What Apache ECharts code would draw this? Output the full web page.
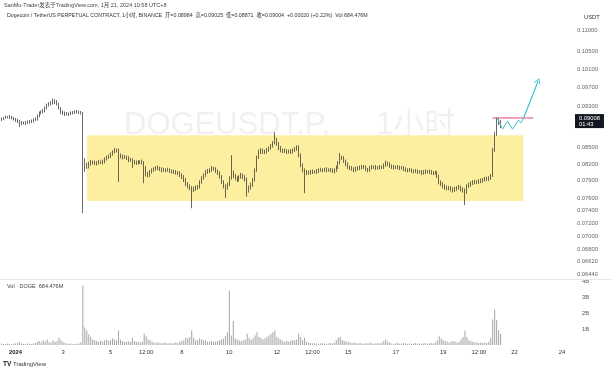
<!DOCTYPE html>
<html><head><meta charset="utf-8">
<script src="https://cdn.jsdelivr.net/npm/echarts@6/dist/echarts.min.js"></script>
<style>html,body{margin:0;padding:0;background:#fff}#c{width:612px;height:371px}</style>
</head><body><div id="c"></div>
<script>
// ---- data (2-hour candles, DOGEUSDT.P) ----
const firstCandle = '2023-12-31 10:00';
const candleHours = 2;
const opens = [
.0904,.0905,.0907,.0909,.0909,.0909,.0907,.0905,.0903,.0901,
.0899,.0897,.0897,.0897,.0899,.0899,.0901,.0903,.0905,.0911,
.0917,.0919,.0921,.0927,.0933,.0935,.0937,.0939,.0941,.0935,
.0927,.0919,.0917,.0915,.0915,.0915,.0917,.0917,.0919,.0919,
.0919,.0917,.0816,.0818,.0816,.0820,.0823,.0823,.0822,.0822,
.0823,.0823,.0823,.0829,.0832,.0834,.0838,.0842,.0845,.0845,
.0836,.0834,.0832,.0832,.0831,.0827,.0827,.0823,.0823,.0822,
.0823,.0823,.0823,.0813,.0802,.0800,.0806,.0809,.0811,.0813,
.0813,.0811,.0809,.0809,.0809,.0809,.0807,.0807,.0806,.0804,
.0804,.0800,.0797,.0792,.0785,.0781,.0778,.0774,.0776,.0779,
.0779,.0788,.0795,.0800,.0806,.0807,.0809,.0813,.0811,.0807,
.0804,.0797,.0788,.0781,.0778,.0783,.0795,.0804,.0799,.0795,
.0792,.0797,.0800,.0797,.0793,.0774,.0778,.0783,.0792,.0809,
.0832,.0842,.0845,.0842,.0842,.0845,.0849,.0853,.0859,.0864,
.0857,.0849,.0845,.0844,.0844,.0842,.0842,.0842,.0845,.0847,
.0851,.0836,.0818,.0809,.0806,.0804,.0804,.0806,.0806,.0806,
.0807,.0809,.0809,.0809,.0809,.0809,.0809,.0809,.0807,.0809,
.0814,.0822,.0832,.0831,.0825,.0820,.0814,.0813,.0811,.0809,
.0811,.0813,.0813,.0814,.0814,.0811,.0809,.0813,.0814,.0814,
.0813,.0813,.0814,.0814,.0818,.0822,.0820,.0816,.0814,.0814,
.0814,.0814,.0813,.0813,.0811,.0809,.0809,.0809,.0807,.0807,
.0807,.0806,.0806,.0804,.0806,.0806,.0806,.0806,.0804,.0804,
.0804,.0799,.0788,.0785,.0781,.0779,.0778,.0778,.0776,.0774,
.0776,.0778,.0779,.0776,.0774,.0771,.0781,.0783,.0786,.0788,
.0788,.0788,.0790,.0790,.0792,.0793,.0793,.0795,.0799,.0845,
.0876,.0901,.0899];
const closes = [
.0905,.0907,.0909,.0909,.0909,.0907,.0905,.0903,.0901,.0899,
.0897,.0897,.0897,.0899,.0899,.0901,.0903,.0905,.0911,.0917,
.0919,.0921,.0927,.0933,.0935,.0937,.0939,.0941,.0935,.0927,
.0919,.0917,.0915,.0915,.0915,.0917,.0917,.0919,.0919,.0919,
.0917,.0816,.0818,.0816,.0820,.0823,.0823,.0822,.0822,.0823,
.0823,.0823,.0829,.0832,.0834,.0838,.0842,.0845,.0845,.0836,
.0834,.0832,.0832,.0831,.0827,.0827,.0823,.0823,.0822,.0823,
.0823,.0823,.0813,.0802,.0800,.0806,.0809,.0811,.0813,.0813,
.0811,.0809,.0809,.0809,.0809,.0807,.0807,.0806,.0804,.0804,
.0800,.0797,.0792,.0785,.0781,.0778,.0774,.0776,.0779,.0779,
.0788,.0795,.0800,.0806,.0807,.0809,.0813,.0811,.0807,.0804,
.0797,.0788,.0781,.0778,.0783,.0795,.0804,.0799,.0795,.0792,
.0797,.0800,.0797,.0793,.0774,.0778,.0783,.0792,.0809,.0832,
.0842,.0845,.0842,.0842,.0845,.0849,.0853,.0859,.0864,.0857,
.0849,.0845,.0844,.0844,.0842,.0842,.0842,.0845,.0847,.0851,
.0836,.0818,.0809,.0806,.0804,.0804,.0806,.0806,.0806,.0807,
.0809,.0809,.0809,.0809,.0809,.0809,.0809,.0807,.0809,.0814,
.0822,.0832,.0831,.0825,.0820,.0814,.0813,.0811,.0809,.0811,
.0813,.0813,.0814,.0814,.0811,.0809,.0813,.0814,.0814,.0813,
.0813,.0814,.0814,.0818,.0822,.0820,.0816,.0814,.0814,.0814,
.0814,.0813,.0813,.0811,.0809,.0809,.0809,.0807,.0807,.0807,
.0806,.0806,.0804,.0806,.0806,.0806,.0806,.0804,.0804,.0804,
.0799,.0788,.0785,.0781,.0779,.0778,.0778,.0776,.0774,.0776,
.0778,.0779,.0776,.0774,.0771,.0781,.0783,.0786,.0788,.0788,
.0788,.0790,.0790,.0792,.0793,.0793,.0795,.0799,.0845,.0876,
.0901,.0899,.0901];
const lows = [
.0901,.0903,.0905,.0906,.0905,.0904,.0902,.0899,.0897,.0889,
.0893,.0894,.0893,.0895,.0896,.0897,.0898,.0901,.0902,.0908,
.0914,.0916,.0918,.0924,.0930,.0932,.0934,.0935,.0932,.0924,
.0915,.0913,.0911,.0912,.0911,.0913,.0914,.0915,.0916,.0915,
.0914,.0736,.0806,.0811,.0812,.0817,.0819,.0818,.0817,.0819,
.0820,.0819,.0821,.0826,.0829,.0831,.0835,.0839,.0841,.0788,
.0830,.0828,.0829,.0827,.0823,.0824,.0813,.0819,.0818,.0819,
.0820,.0819,.0786,.0798,.0796,.0797,.0803,.0806,.0808,.0809,
.0807,.0805,.0806,.0805,.0806,.0804,.0803,.0802,.0801,.0800,
.0797,.0793,.0788,.0781,.0777,.0774,.0744,.0771,.0773,.0775,
.0777,.0785,.0792,.0797,.0802,.0804,.0806,.0808,.0804,.0800,
.0794,.0785,.0777,.0761,.0775,.0781,.0792,.0795,.0791,.0788,
.0789,.0794,.0793,.0789,.0763,.0770,.0775,.0780,.0789,.0806,
.0829,.0838,.0838,.0838,.0839,.0842,.0846,.0850,.0856,.0853,
.0845,.0841,.0840,.0840,.0838,.0839,.0838,.0839,.0842,.0844,
.0832,.0814,.0805,.0769,.0800,.0801,.0801,.0802,.0803,.0802,
.0804,.0806,.0805,.0806,.0805,.0806,.0805,.0804,.0803,.0806,
.0811,.0819,.0827,.0822,.0816,.0811,.0809,.0808,.0805,.0806,
.0808,.0809,.0810,.0811,.0807,.0805,.0806,.0810,.0811,.0809,
.0810,.0810,.0811,.0811,.0815,.0816,.0813,.0811,.0810,.0811,
.0810,.0809,.0810,.0807,.0806,.0805,.0806,.0804,.0803,.0804,
.0802,.0803,.0800,.0801,.0802,.0803,.0802,.0801,.0800,.0801,
.0795,.0784,.0781,.0777,.0775,.0774,.0774,.0772,.0770,.0771,
.0773,.0775,.0772,.0770,.0749,.0768,.0778,.0780,.0783,.0784,
.0785,.0785,.0786,.0787,.0789,.0790,.0790,.0792,.0797,.0842,
.0872,.0893,.0887];
const highs = [
.0908,.0909,.0912,.0911,.0913,.0911,.0909,.0907,.0905,.0903,
.0901,.0900,.0901,.0902,.0903,.0904,.0906,.0908,.0914,.0920,
.0922,.0925,.0930,.0936,.0939,.0941,.0946,.0945,.0943,.0938,
.0929,.0922,.0920,.0919,.0918,.0920,.0921,.0922,.0923,.0922,
.0921,.0919,.0830,.0822,.0824,.0827,.0826,.0826,.0825,.0827,
.0826,.0828,.0832,.0835,.0837,.0841,.0845,.0849,.0848,.0848,
.0839,.0837,.0836,.0835,.0834,.0831,.0830,.0827,.0826,.0827,
.0826,.0828,.0825,.0816,.0806,.0809,.0812,.0814,.0816,.0817,
.0815,.0814,.0813,.0812,.0813,.0812,.0810,.0810,.0809,.0807,
.0807,.0803,.0800,.0795,.0788,.0784,.0781,.0780,.0782,.0783,
.0791,.0798,.0803,.0809,.0811,.0812,.0816,.0815,.0814,.0810,
.0807,.0800,.0791,.0784,.0787,.0798,.0836,.0808,.0802,.0798,
.0800,.0804,.0803,.0800,.0796,.0782,.0787,.0795,.0812,.0835,
.0846,.0849,.0848,.0846,.0849,.0852,.0857,.0862,.0879,.0868,
.0860,.0853,.0848,.0848,.0847,.0846,.0847,.0848,.0851,.0854,
.0854,.0839,.0821,.0812,.0809,.0808,.0809,.0810,.0809,.0811,
.0812,.0813,.0812,.0813,.0814,.0812,.0813,.0812,.0812,.0817,
.0825,.0840,.0835,.0834,.0828,.0823,.0817,.0816,.0814,.0815,
.0816,.0817,.0818,.0818,.0817,.0813,.0816,.0818,.0817,.0818,
.0816,.0818,.0817,.0821,.0826,.0824,.0823,.0819,.0818,.0817,
.0818,.0817,.0816,.0816,.0814,.0812,.0813,.0812,.0810,.0811,
.0810,.0809,.0809,.0809,.0810,.0809,.0810,.0809,.0807,.0808,
.0807,.0801,.0791,.0788,.0784,.0782,.0781,.0781,.0779,.0780,
.0781,.0783,.0782,.0779,.0777,.0784,.0787,.0789,.0791,.0792,
.0791,.0793,.0794,.0795,.0797,.0797,.0798,.0802,.0849,.0880,
.0908,.0906,.0903];
// volume in billions of DOGE
const volumes = [
.08,.06,.07,.10,.06,.05,.08,.09,.12,.18,
.10,.07,.06,.08,.10,.07,.09,.12,.20,.25,
.15,.30,.22,.35,.18,.15,.28,.20,.25,.45,
.30,.18,.12,.10,.08,.09,.07,.06,.08,.10,
.15,3.7,1.1,.9,.65,.5,.35,.3,.25,.2,
.28,.22,.3,.35,.25,.3,.4,.35,.3,.9,
.35,.25,.2,.18,.22,.2,.45,.25,.2,.18,
.15,.2,.7,.55,.35,.3,.2,.15,.12,.15,
.12,.1,.15,.12,.1,.12,.1,.12,.15,.12,
.2,.25,.3,.45,.4,.5,.9,.45,.3,.3,
.4,.35,.3,.3,.2,.2,.25,.2,.2,.25,
.3,.35,.4,.55,.8,3.4,.6,1.5,.4,.35,
.3,.25,.3,.35,.7,.45,.35,.4,.6,.8,
.5,.45,.35,.4,.5,.6,.7,.8,.9,.5,
.4,.35,.25,.2,.25,.2,.25,.3,.3,.35,
.7,.5,.3,.45,.2,.15,.12,.1,.12,.1,
.08,.1,.12,.1,.08,.1,.12,.1,.15,.3,
.45,.5,.3,.25,.2,.2,.15,.12,.15,.12,
.1,.12,.1,.08,.12,.1,.15,.1,.08,.1,
.12,.1,.12,.25,.35,.2,.15,.1,.08,.1,
.12,.08,.1,.12,.1,.08,.1,.08,.1,.12,
.08,.1,.08,.1,.12,.08,.1,.12,.1,.15,
.3,.55,.4,.3,.25,.2,.15,.2,.25,.2,
.15,.2,.35,.5,.9,.5,.3,.25,.2,.15,
.15,.12,.15,.12,.15,.12,.2,.45,1.6,2.2,
1.55,.9,.68];
const priceTicks = [0.11,0.105,0.101,0.097,0.093,0.085,0.082,0.079,0.076,0.074,0.072,0.070,0.068,0.0662,0.0644];
const lastPrice = 0.09008;
const lastPriceCountdown = '01:43';
const volumeTicks = [1,2,3,4];
const timeTicks = ['2024-01-01 00:00','2024-01-03 00:00','2024-01-05 00:00','2024-01-06 12:00','2024-01-08 00:00','2024-01-10 00:00','2024-01-12 00:00','2024-01-13 12:00','2024-01-15 00:00','2024-01-17 00:00','2024-01-19 00:00','2024-01-20 12:00','2024-01-22 00:00','2024-01-24 00:00'];
const timeRange = ['2023-12-31 08:21','2024-01-24 10:07'];
const priceRange = [0.0637, 0.11444];
const volumeRange = [0, 4.125];
// drawings
const boxTimes = ['2024-01-04 00:00','2024-01-22 09:00'];
const boxPrices = [0.0873, 0.0756];
const resistanceTimes = ['2024-01-21 02:00','2024-01-22 19:00'];
const resistancePrice = 0.0907;
const pathTimes = ['2024-01-21 06:30','2024-01-21 12:00','2024-01-21 17:00','2024-01-21 22:00','2024-01-22 04:00','2024-01-22 06:30','2024-01-22 09:30','2024-01-23 00:00'];
const pathPrices = [0.0907,0.0885,0.0901,0.0885,0.0903,0.0897,0.0908,0.0984];

// ---- build ----
const T = s => new Date(s.replace(' ', 'T')).getTime();
const t0 = T(firstCandle);
const times = closes.map((_, i) => t0 + i * candleHours * 3600000);
const FONT = "'Liberation Sans','Noto Sans CJK SC',Arial,sans-serif";
const candleData = times.map((t, i) => [t, opens[i], closes[i], lows[i], highs[i]]);
const volData = times.map((t, i) => [t, volumes[i]]);
const pathData = pathTimes.map((s, i) => [T(s), pathPrices[i]]);
const n = pathData.length;

function fmtTime(v) {
  const d = new Date(v);
  if (d.getHours() === 12) return '12:00';
  if (d.getMonth() === 0 && d.getDate() === 1) return '{b|2024}';
  return String(d.getDate());
}

const chart = echarts.init(document.getElementById('c'), null, {width: 612, height: 371});
const hidden = {show: false};
chart.setOption({
  animation: false,
  backgroundColor: '#fff',
  textStyle: {fontFamily: FONT},
  grid: [
    {left: 0, right: 40, top: 12, height: 267},
    {left: 0, right: 40, top: 279, height: 66}
  ],
  xAxis: [
    {type: 'value', gridIndex: 0, min: T(timeRange[0]), max: T(timeRange[1]), show: false, scale: true},
    {type: 'value', gridIndex: 1, min: T(timeRange[0]), max: T(timeRange[1]), scale: true,
     axisLine: hidden, axisTick: hidden, splitLine: hidden,
     axisLabel: {customValues: timeTicks.map(T), formatter: fmtTime, fontSize: 5.8, color: '#333',
       margin: 4, hideOverlap: false, showMinLabel: true, showMaxLabel: true, fontFamily: FONT,
       rich: {b: {fontWeight: 'bold', fontSize: 5.8, color: '#131722', fontFamily: FONT}}}}
  ],
  yAxis: [
    {type: 'log', gridIndex: 0, position: 'right', min: priceRange[0], max: priceRange[1],
     axisLabel: hidden, axisLine: hidden, axisTick: hidden, splitLine: hidden},
    {type: 'value', gridIndex: 1, position: 'right', min: volumeRange[0], max: volumeRange[1],
     axisLine: hidden, axisTick: hidden, splitLine: hidden,
     axisLabel: {customValues: volumeTicks, formatter: v => v + 'B', fontSize: 5.8, color: '#555', margin: 10, fontFamily: FONT}}
  ],
  series: [
    {
      type: 'candlestick', xAxisIndex: 0, yAxisIndex: 0, data: candleData, barWidth: 1,
      itemStyle: {color: '#2a2a2a', color0: '#2a2a2a', borderColor: '#2a2a2a', borderColor0: '#2a2a2a', borderWidth: 0.7},
      markArea: {silent: true, itemStyle: {color: '#fcf0a0'},
        data: [[{xAxis: T(boxTimes[0]), yAxis: boxPrices[0]}, {xAxis: T(boxTimes[1]), yAxis: boxPrices[1]}]]},
      markLine: {silent: true, symbol: 'none', animation: false, precision: 6,
        lineStyle: {color: 'rgba(0,0,0,0)', width: 0},
        label: {position: 'end', distance: 5, fontSize: 5.8, color: '#666', fontFamily: FONT,
          formatter: p => Number(p.value).toFixed(5)},
        data: priceTicks.map(v => ({yAxis: v})).concat([{
          yAxis: lastPrice,
          label: {position: 'end', distance: 3, formatter: () => lastPrice.toFixed(5) + '\n' + lastPriceCountdown,
            backgroundColor: '#131722', color: '#fff', padding: [1, 4], lineHeight: 6, fontSize: 5.8, fontFamily: FONT}
        }])}
    },
    {
      type: 'bar', xAxisIndex: 1, yAxisIndex: 1, data: volData, barWidth: 1,
      itemStyle: {color: '#a3a3a3'}
    },
    {
      type: 'line', xAxisIndex: 0, yAxisIndex: 0, z: 4, symbol: 'none',
      data: resistanceTimes.map(s => [T(s), resistancePrice]),
      lineStyle: {color: '#e2456e', width: 1}
    },
    {
      type: 'line', xAxisIndex: 0, yAxisIndex: 0, z: 4, symbol: 'none', data: pathData,
      lineStyle: {color: '#45c4d6', width: 1},
      markLine: {silent: true, animation: false, precision: 6,
        symbol: ['none', 'path://M0,10 L5,0 L10,10 L8.6,10 L5,2.6 L1.4,10 Z'], symbolSize: [7, 6],
        lineStyle: {color: '#45c4d6', width: 1, type: 'solid'}, label: hidden,
        data: [[{coord: pathData[n - 2]}, {coord: pathData[n - 1]}]]}
    }
  ],
  graphic: [
    {type: 'text', x: 4, y: 5, z: 10, style: {text: 'SanMu-Trader发表于TradingView.com, 1月 21, 2024 10:58 UTC+8', font: '5.5px ' + FONT, fill: '#444', verticalAlign: 'middle'}},
    {type: 'text', x: 7, y: 16, z: 10, style: {text: 'Dogecoin / TetherUS PERPETUAL CONTRACT, 1小时, BINANCE  开=0.08984  高=0.09025  低=0.08871  收=0.09004  +0.00020 (+0.22%)  Vol 684.476M', font: '5.3px ' + FONT, fill: '#333', verticalAlign: 'middle'}},
    {type: 'text', x: 584, y: 17, z: 10, style: {text: 'USDT', font: '5.8px ' + FONT, fill: '#333', verticalAlign: 'middle'}},
    {type: 'text', x: 124, y: 125, z: 0, style: {text: 'DOGEUSDT.P,', font: '31px ' + FONT, fill: 'rgba(0,0,0,0.06)', verticalAlign: 'middle'}},
    {type: 'text', x: 376, y: 125, z: 0, style: {text: '1小时', font: '31px ' + FONT, fill: 'rgba(0,0,0,0.06)', verticalAlign: 'middle'}},
    {type: 'line', z: 10, shape: {x1: 0, y1: 279.5, x2: 612, y2: 279.5}, style: {stroke: '#e8e8e8', lineWidth: 1}},
    {type: 'text', x: 7, y: 286, z: 10, style: {text: 'Vol · DOGE  684.476M', font: '5.5px ' + FONT, fill: '#444', verticalAlign: 'middle'}},
    {type: 'text', x: 3, y: 364, z: 10, style: {text: 'TV', font: 'bold 6.5px ' + FONT, fill: '#131722', verticalAlign: 'middle'}},
    {type: 'text', x: 13, y: 364, z: 10, style: {text: 'TradingView', font: '6px ' + FONT, fill: '#333', verticalAlign: 'middle'}}
  ]
});
</script></body></html>
